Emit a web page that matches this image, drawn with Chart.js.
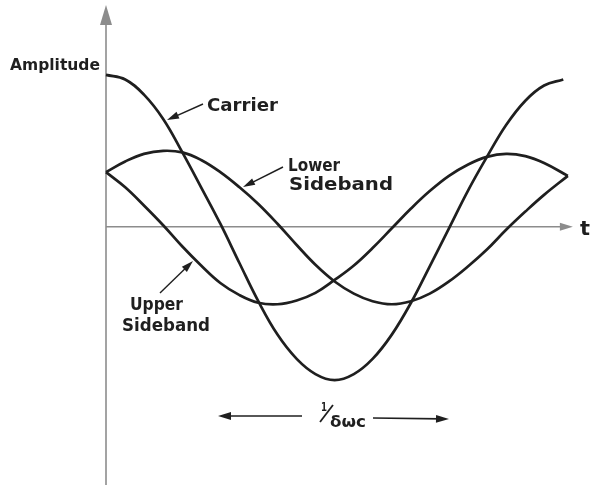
<!DOCTYPE html>
<html lang="en">
<head>
<meta charset="UTF-8">
<title>Carrier and sidebands</title>
<style>
  html, body { margin: 0; padding: 0; background: #fff; }
  #wrap { width: 595px; height: 485px; position: relative; }
</style>
</head>
<body>
<div id="wrap"><canvas id="waveChart"></canvas></div>

<script src="https://cdn.jsdelivr.net/npm/chart.js"></script>
<script>
// time in carrier periods, amplitude relative to the carrier peak
const carrierT = [0, 0.042, 0.083, 0.125, 0.167, 0.208, 0.25, 0.292, 0.333, 0.375, 0.417, 0.458, 0.50,
                  0.542, 0.583, 0.625, 0.667, 0.708, 0.75, 0.792, 0.833, 0.875, 0.917, 0.958, 1.0];
const carrierY = [1.00, 0.97, 0.87, 0.71, 0.49, 0.26, 0.02, -0.24, -0.49, -0.71, -0.87, -0.97, -1.01,
                  -0.97, -0.87, -0.71, -0.50, -0.26, -0.01, 0.24, 0.46, 0.67, 0.83, 0.93, 0.97];

// both sidebands end at the same point, a little past the carrier
const sidebandT = [0, 0.042, 0.083, 0.125, 0.167, 0.208, 0.25, 0.292, 0.333, 0.375, 0.417, 0.458, 0.50,
                   0.542, 0.583, 0.625, 0.667, 0.708, 0.75, 0.792, 0.833, 0.875, 0.917, 0.958, 1.01];
const upperY = [0.36, 0.26, 0.14, 0.01, -0.13, -0.255, -0.37, -0.45, -0.50, -0.51, -0.485, -0.435, -0.35,
                -0.255, -0.14, -0.01, 0.12, 0.235, 0.335, 0.41, 0.46, 0.48, 0.465, 0.42, 0.335];
const lowerY = [0.36, 0.43, 0.48, 0.50, 0.49, 0.44, 0.36, 0.26, 0.15, 0.02, -0.12, -0.25, -0.36,
                -0.44, -0.49, -0.51, -0.49, -0.44, -0.36, -0.26, -0.15, -0.02, 0.10, 0.21, 0.335];

const xRange = [0, 1.03];
const yRange = [-1.70, 1.46];
const tAxisEnd = 1.021;

const ink = '#1f1f1f';
const axisGrey = '#8c8c8c';
const hand = "'DejaVu Sans'";

function toPoints(ts, ys) {
    return ts.map((t, i) => ({ x: t, y: ys[i] }));
}

// draws text squeezed/stretched to a given width
function fitText(ctx, txt, x, y, w, size, weight) {
    ctx.save();
    ctx.font = (weight || 'normal') + ' ' + size + 'px ' + hand;
    const m = ctx.measureText(txt).width;
    ctx.translate(x, y);
    ctx.scale(w / m, 1);
    ctx.fillText(txt, 0, 0);
    ctx.restore();
}

function arrow(ctx, x1, y1, x2, y2, head, lw, col) {
    const a = Math.atan2(y2 - y1, x2 - x1);
    ctx.save();
    ctx.strokeStyle = col;
    ctx.fillStyle = col;
    ctx.lineWidth = lw;
    ctx.beginPath();
    ctx.moveTo(x1, y1);
    ctx.lineTo(x2 - Math.cos(a) * head * 0.6, y2 - Math.sin(a) * head * 0.6);
    ctx.stroke();
    ctx.beginPath();
    ctx.moveTo(x2, y2);
    ctx.lineTo(x2 - Math.cos(a) * head + Math.sin(a) * head * 0.3, y2 - Math.sin(a) * head - Math.cos(a) * head * 0.3);
    ctx.lineTo(x2 - Math.cos(a) * head - Math.sin(a) * head * 0.3, y2 - Math.sin(a) * head + Math.cos(a) * head * 0.3);
    ctx.closePath();
    ctx.fill();
    ctx.restore();
}

const axesPlugin = {
    id: 'axesPlugin',
    beforeDatasetsDraw(chart) {
        const ctx = chart.ctx;
        const xs = chart.scales.x, ys = chart.scales.y;
        const x0 = xs.getPixelForValue(0);
        const y0 = ys.getPixelForValue(0);
        // vertical amplitude axis
        arrow(ctx, x0, ys.getPixelForValue(yRange[0]), x0, ys.getPixelForValue(yRange[1]), 20, 1.6, axisGrey);
        // time axis
        arrow(ctx, x0, y0, xs.getPixelForValue(tAxisEnd), y0, 13, 1.4, axisGrey);
    },
    afterDraw(chart) {
        const ctx = chart.ctx;
        ctx.save();
        ctx.fillStyle = ink;
        ctx.textBaseline = 'alphabetic';
        fitText(ctx, 'Amplitude', 10, 70, 90, 16, '600');
        fitText(ctx, 'Carrier', 207, 111, 71, 17, '600');
        fitText(ctx, 'Lower', 288, 171, 52, 17, '600');
        fitText(ctx, 'Sideband', 289, 190, 104, 17, '600');
        fitText(ctx, 'Upper', 130, 310, 53, 17, '600');
        fitText(ctx, 'Sideband', 122, 331, 88, 17, '600');
        fitText(ctx, 't', 580, 235, 10, 19, '600');

        // 1/δωc
        fitText(ctx, '1', 321, 411, 6, 13, '600');
        ctx.strokeStyle = ink;
        ctx.lineWidth = 1.8;
        ctx.beginPath();
        ctx.moveTo(320, 422);
        ctx.lineTo(333, 405);
        ctx.stroke();
        fitText(ctx, 'δωc', 330, 427, 36, 16, '600');
        ctx.restore();

        arrow(ctx, 203, 104, 167, 120, 12, 1.4, ink);
        arrow(ctx, 283, 167, 243, 187, 12, 1.4, ink);
        arrow(ctx, 160, 293, 193, 261, 12, 1.4, ink);
        arrow(ctx, 302, 416, 218, 416, 13, 1.6, ink);
        arrow(ctx, 373, 418, 449, 419, 13, 1.6, ink);
    }
};

const lineStyle = {
    borderColor: ink,
    borderWidth: 2.7,
    pointRadius: 0,
    fill: false,
    tension: 0.4,
    clip: false
};

new Chart(document.getElementById('waveChart').getContext('2d'), {
    type: 'line',
    data: {
        datasets: [
            Object.assign({ label: 'Carrier', data: toPoints(carrierT, carrierY) }, lineStyle),
            Object.assign({ label: 'Upper Sideband', data: toPoints(sidebandT, upperY) }, lineStyle),
            Object.assign({ label: 'Lower Sideband', data: toPoints(sidebandT, lowerY) }, lineStyle)
        ]
    },
    options: {
        responsive: true,
        maintainAspectRatio: false,
        animation: false,
        layout: { padding: { left: 106, right: 18, top: 5, bottom: 0 } },
        plugins: { legend: { display: false }, tooltip: { enabled: false } },
        scales: {
            x: { type: 'linear', min: xRange[0], max: xRange[1], display: false },
            y: { type: 'linear', min: yRange[0], max: yRange[1], display: false }
        }
    },
    plugins: [axesPlugin]
});
</script>
</body>
</html>
